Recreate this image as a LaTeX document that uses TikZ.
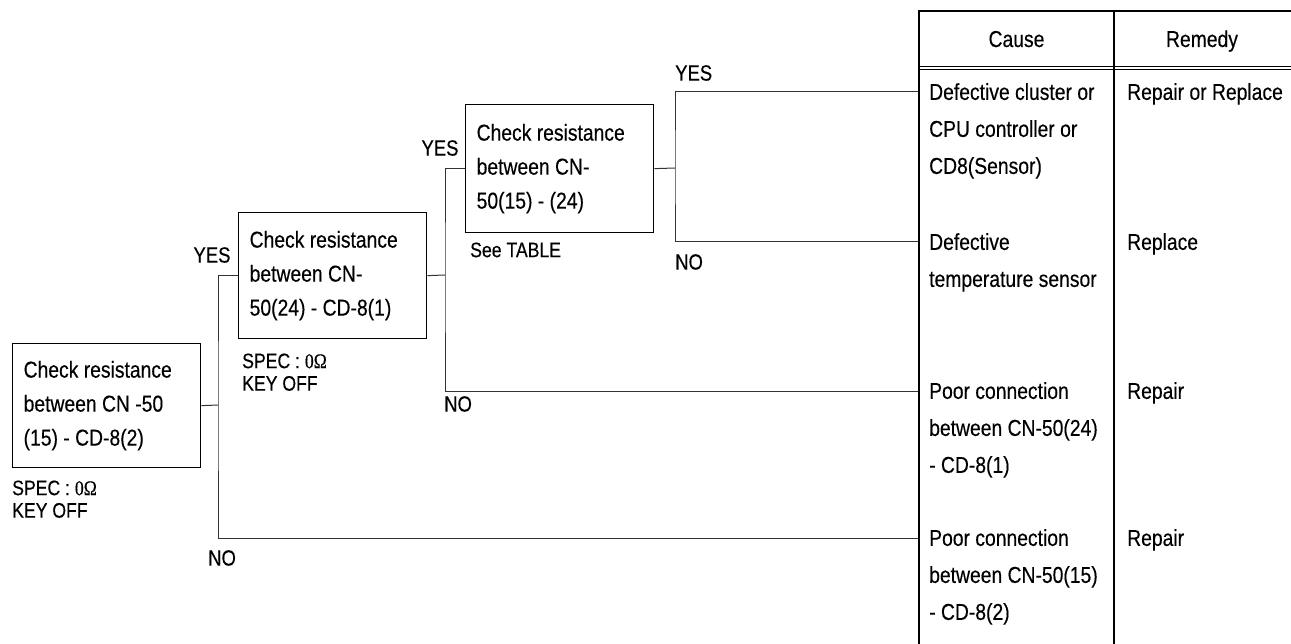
\documentclass[tikz,border=0pt]{standalone}
\usepackage{fontspec}
\setmainfont{Liberation Sans}[FakeStretch=0.84,FakeBold=0.3]
\newfontfamily\serifo{Liberation Serif}[FakeStretch=0.84,FakeBold=0.3]
\begin{document}
\begin{tikzpicture}[x=1pt,y=-1pt,
  box/.style={draw, line width=1.3pt, anchor=north west, align=flush left, text width=166pt,
    inner xsep=11pt, inner ysep=0pt, font=\fontsize{23}{34}\selectfont},
  conn/.style={draw, line width=1pt, black!80},
  lbl/.style={font=\fontsize{22}{24}\selectfont, inner sep=0pt},
  note/.style={font=\fontsize{21}{22.5}\selectfont, inner sep=0pt, anchor=north west, align=left},
  cell/.style={font=\fontsize{23}{37}\selectfont, inner sep=0pt, anchor=north west, align=left},
  head/.style={font=\fontsize{23}{27}\selectfont, inner sep=0pt, anchor=base},
  tline/.style={line width=1.3pt, black}]
\path[fill=white] (0,0) rectangle (1291,644);
\useasboundingbox (0,0) rectangle (1291,644);

% boxes
\node[box, minimum height=124pt] (b1) at (12,343) {Check resistance\\between CN -50\\(15) - CD-8(2)};
\node[box, minimum height=126pt] (b2) at (238,212) {Check resistance\\between CN-\\50(24) - CD-8(1)};
\node[box, minimum height=128pt] (b3) at (465,104) {Check resistance\\between CN-\\50(15) - (24)};

% notes
\node[note] (n1) at ([yshift=-12pt]b1.south west) {SPEC : {\serifo 0Ω}\\KEY OFF};
\node[note] (n2) at ([xshift=4pt,yshift=-14pt]b2.south west) {SPEC : {\serifo 0Ω}\\KEY OFF};
\node[note] (n3) at ([xshift=5pt,yshift=-9pt]b3.south west) {See TABLE};

% junctions and row ends
\coordinate (j1) at (218,405);
\coordinate (j2) at (445,275);
\coordinate (j3) at (675,168);
\coordinate (r1) at (919,92);
\coordinate (r2) at (919,242);
\coordinate (r3) at (919,391);
\coordinate (r4) at (919,538);

% connectors
\draw[conn] (b1.east) -- (j1);
\draw[conn] (b2.west) -| (j1) |- (r4);
\draw[conn] (b2.east) -- (j2);
\draw[conn] (b3.west) -| (j2) |- (r3);
\draw[conn] (b3.east) -- (j3);
\draw[conn] (r1) -| (j3) |- (r2);

% labels
\node[lbl] (y1) at (212,255) {YES};
\node[lbl, anchor=west] (no1) at (208,558) {NO};
\node[lbl] (y2) at (440,148) {YES};
\node[lbl, anchor=west] (no2) at (444,404) {NO};
\node[lbl, anchor=west] (y3) at (675,73) {YES};
\node[lbl, anchor=west] (no3) at (675,262) {NO};

% table
\draw[tline] (919,11) -- (1291,11);
\draw[line width=2pt] (919,10.4) -- (919,644);
\draw[tline] (1114,11) -- (1114,644);
\draw[line width=0.9pt] (919,66.5) -- (1291,66.5);
\draw[line width=0.9pt] (919,69.5) -- (1291,69.5);

\node[head] (hc) at (1016.5,47) {Cause};
\node[head] (hr) at (1202,47) {Remedy};

\node[cell] (c1) at (929,83) {Defective cluster or\\CPU controller or\\CD8(Sensor)};
\node[cell] (m1) at (1127,83) {Repair or Replace};
\node[cell] (c2) at (929,233) {Defective\\temperature sensor};
\node[cell] (m2) at (1127,233) {Replace};
\node[cell] (c3) at (929,382) {Poor connection\\between CN-50(24)\\- CD-8(1)};
\node[cell] (m3) at (1127,382) {Repair};
\node[cell] (c4) at (929,529) {Poor connection\\between CN-50(15)\\- CD-8(2)};
\node[cell] (m4) at (1127,529) {Repair};
\end{tikzpicture}
\end{document}
